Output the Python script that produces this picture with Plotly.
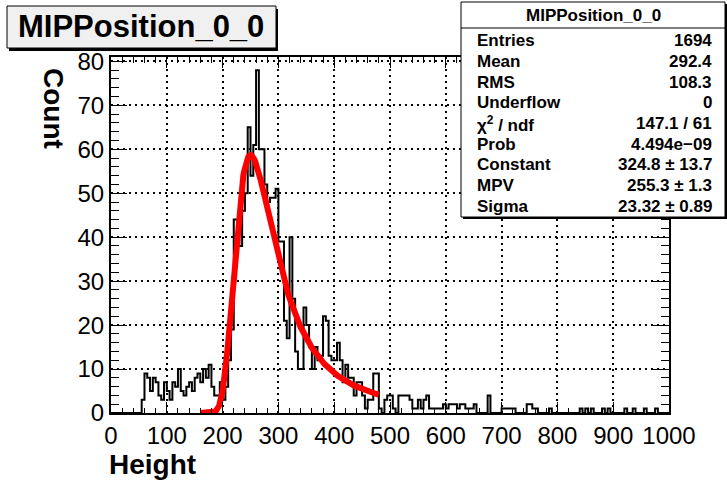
import numpy as np
import plotly.graph_objects as go

# ---------------- histogram data (200 bins of width 5 over 0..1000) ----------------
BIN_WIDTH = 5
X_MIN, X_MAX = 0, 1000

counts = [
    0, 0, 0, 0, 0, 0, 0, 0, 0, 0,          # 0 - 45
    0, 3, 9, 8, 5, 8, 7, 4, 3, 7,          # 50 - 95
    5, 3, 7, 6, 10, 5, 4, 6, 7, 5,         # 100 - 145
    8, 9, 7, 10, 8, 11, 6, 4, 4, 7,        # 150 - 195
    3, 6, 12, 19, 44, 44, 38, 46, 50, 65,  # 200 - 245
    54, 61, 78, 60, 60, 52, 48, 49, 49, 51,  # 250 - 295
    39, 39, 21, 17, 40, 26, 14, 10, 10, 24,  # 300 - 345
    20, 15, 10, 15, 12, 13, 22, 21, 13, 12,  # 350 - 395
    12, 16, 12, 7, 11, 8, 8, 4, 7, 7,        # 400 - 445
    4, 1, 3, 3, 9, 9, 1, 0, 3, 4,            # 450 - 495
    4, 1, 0, 4, 4, 4, 4, 3, 1, 1,            # 500 - 545
    3, 1, 3, 4, 1, 1, 1, 1, 1, 2,            # 550 - 595
    1, 2, 2, 2, 1, 2, 2, 1, 1, 1,            # 600 - 645
    2, 0, 0, 0, 0, 4, 0, 0, 0, 0,            # 650 - 695
    1, 1, 1, 1, 1, 0, 0, 0, 0, 2,            # 700 - 745
    2, 1, 1, 0, 0, 0, 0, 1, 0, 0,            # 750 - 795
    0, 0, 0, 0, 0, 0, 0, 0, 1, 0,            # 800 - 845
    1, 0, 1, 0, 0, 0, 1, 0, 1, 0,            # 850 - 895
    0, 0, 0, 0, 1, 0, 0, 1, 0, 0,            # 900 - 945
    0, 1, 0, 0, 0, 1, 0, 0, 0, 0,            # 950 - 995
]

# ---------------- Landau fit result ----------------
FIT_CONSTANT = 324.8
FIT_MPV = 255.3
FIT_SIGMA = 23.32
FIT_RANGE = (160.0, 480.0)

HIST_TITLE = "MIPPosition_0_0"
X_TITLE = "Height"
Y_TITLE = "Count"
stats_rows = [
    ("Entries", "1694"),
    ("Mean", "292.4"),
    ("RMS", "108.3"),
    ("Underflow", "0"),
    ("\u03c7<sup>2</sup> / ndf", "147.1 / 61"),
    ("Prob", "4.494e\u221209"),
    ("Constant", "324.8 \u00b1 13.7"),
    ("MPV", "255.3 \u00b1 1.3"),
    ("Sigma", "23.32 \u00b1 0.89"),
]

Y_MAX = 81.0


def landau_density(v):
    """CERNLIB DENLAN approximation of the standard Landau density."""
    p1 = [0.4259894875, -0.1249762550, 0.03984243700, -0.006298287635, 0.001511162253]
    q1 = [1.0, -0.3388260629, 0.09594393323, -0.01608042283, 0.003778942063]
    p2 = [0.1788541609, 0.1173957403, 0.01488850518, -0.001394989411, 0.0001283617211]
    q2 = [1.0, 0.7428795082, 0.3153932961, 0.06694219548, 0.008790609714]
    p3 = [0.1788544503, 0.09359161662, 0.006325387654, 0.00006611667319, -0.000002031049101]
    q3 = [1.0, 0.6097809921, 0.2560616665, 0.04746722384, 0.006957301675]
    p4 = [0.9874054407, 118.6723273, 849.2794360, -743.7792444, 427.0262186]
    q4 = [1.0, 106.8615961, 337.6496214, 2016.712389, 1597.063511]
    a1 = [0.04166666667, -0.01996527778, 0.02709538966]

    def poly(c, t):
        return c[0] + (c[1] + (c[2] + (c[3] + c[4] * t) * t) * t) * t

    out = np.zeros_like(v)
    for i, x in enumerate(v):
        if x < -5.5:
            u = np.exp(x + 1.0)
            out[i] = 0.3989422803 * (np.exp(-1 / u) / np.sqrt(u)) * (1 + (a1[0] + (a1[1] + a1[2] * u) * u) * u)
        elif x < -1:
            u = np.exp(-x - 1)
            out[i] = np.exp(-u) * np.sqrt(u) * poly(p1, x) / poly(q1, x)
        elif x < 1:
            out[i] = poly(p2, x) / poly(q2, x)
        elif x < 5:
            out[i] = poly(p3, x) / poly(q3, x)
        else:
            u = 1 / x
            out[i] = u * u * poly(p4, u) / poly(q4, u)
    return out


edges = np.arange(X_MIN, X_MAX + BIN_WIDTH, BIN_WIDTH)
step_y = list(counts) + [counts[-1]]

fit_x = np.linspace(FIT_RANGE[0], FIT_RANGE[1], 300)
fit_y = FIT_CONSTANT * landau_density((fit_x - FIT_MPV) / FIT_SIGMA)

W, H = 727, 484
ML, MR, MT, MB = 111, 58, 57, 71
PW, PH = W - ML - MR, H - MT - MB


def px(x):
    return (x - ML) / PW


def py(y):
    return 1 - (y - MT) / PH


FONT = "Liberation Sans, Arial, Helvetica, sans-serif"

fig = go.Figure()
fig.add_trace(go.Scatter(
    x=edges, y=step_y, mode="lines", line=dict(color="black", width=2, shape="hv"),
    hoverinfo="skip", showlegend=False,
))
fig.add_trace(go.Scatter(
    x=fit_x, y=fit_y, mode="lines", line=dict(color="#ff0000", width=6),
    hoverinfo="skip", showlegend=False,
))

axis_common = dict(
    showline=True, linecolor="black", linewidth=2, mirror="ticks",
    ticks="inside", tickcolor="black", tickwidth=1,
    showgrid=True, gridcolor="black", gridwidth=1.5, griddash="2px,4px",
    zeroline=False, tickfont=dict(family=FONT, size=24, color="black"),
)

fig.update_xaxes(
    range=[X_MIN, X_MAX], dtick=100, tick0=0, ticklen=11,
    minor=dict(dtick=20, ticks="inside", ticklen=5.5, tickcolor="black", tickwidth=1, showgrid=False),
    **axis_common,
)
fig.update_yaxes(
    range=[0, Y_MAX], dtick=10, tick0=0, ticklen=16,
    minor=dict(dtick=2, ticks="inside", ticklen=8, tickcolor="black", tickwidth=1, showgrid=False),
    **axis_common,
)

shapes = []
annotations = []

# title box
shapes.append(dict(type="rect", xref="paper", yref="paper",
                   x0=px(9), x1=px(278), y0=py(51), y1=py(9),
                   fillcolor="black", line=dict(width=0), layer="above"))
shapes.append(dict(type="rect", xref="paper", yref="paper",
                   x0=px(7), x1=px(276), y0=py(48), y1=py(6),
                   fillcolor="#f0f0f0", line=dict(color="black", width=1), layer="above"))
annotations.append(dict(xref="paper", yref="paper", x=px(141), y=py(27), text="<b>%s</b>" % HIST_TITLE,
                        showarrow=False, xanchor="center", yanchor="middle",
                        font=dict(family=FONT, size=31, color="black")))

# statistics box
SB_L, SB_R, SB_T, SB_B = 461, 725, 2, 217
shapes.append(dict(type="rect", xref="paper", yref="paper",
                   x0=px(SB_L + 2), x1=px(SB_R + 2), y0=py(SB_B + 2), y1=py(SB_T + 2),
                   fillcolor="black", line=dict(width=0), layer="above"))
shapes.append(dict(type="rect", xref="paper", yref="paper",
                   x0=px(SB_L), x1=px(SB_R), y0=py(SB_B), y1=py(SB_T),
                   fillcolor="white", line=dict(color="black", width=1), layer="above"))
shapes.append(dict(type="line", xref="paper", yref="paper",
                   x0=px(SB_L), x1=px(SB_R), y0=py(28), y1=py(28),
                   line=dict(color="black", width=1), layer="above"))
annotations.append(dict(xref="paper", yref="paper", x=px((SB_L + SB_R) / 2), y=py(16),
                        text="<b>%s</b>" % HIST_TITLE, showarrow=False,
                        xanchor="center", yanchor="middle",
                        font=dict(family=FONT, size=17, color="black")))
row_y0, row_step = 40.7, 20.7
for i, (label, value) in enumerate(stats_rows):
    yy = row_y0 + i * row_step
    annotations.append(dict(xref="paper", yref="paper", x=px(475), y=py(yy),
                            text="<b>%s</b>" % label, showarrow=False,
                            xanchor="left", yanchor="middle",
                            font=dict(family=FONT, size=17, color="black")))
    annotations.append(dict(xref="paper", yref="paper", x=px(714), y=py(yy),
                            text="<b>%s</b>" % value, showarrow=False,
                            xanchor="right", yanchor="middle",
                            font=dict(family=FONT, size=17, color="black")))

# axis titles
annotations.append(dict(xref="paper", yref="paper", x=px(107), y=py(464),
                        text="<b>%s</b>" % X_TITLE, showarrow=False,
                        xanchor="left", yanchor="middle",
                        font=dict(family=FONT, size=28, color="black")))
annotations.append(dict(xref="paper", yref="paper", x=px(53), y=py(108),
                        text="<b>%s</b>" % Y_TITLE, showarrow=False, textangle=90,
                        xanchor="center", yanchor="middle",
                        font=dict(family=FONT, size=28, color="black")))

fig.update_layout(
    width=W, height=H,
    margin=dict(l=ML, r=MR, t=MT, b=MB),
    paper_bgcolor="white", plot_bgcolor="white",
    shapes=shapes, annotations=annotations,
    showlegend=False,
)

fig.write_html("out.html")
